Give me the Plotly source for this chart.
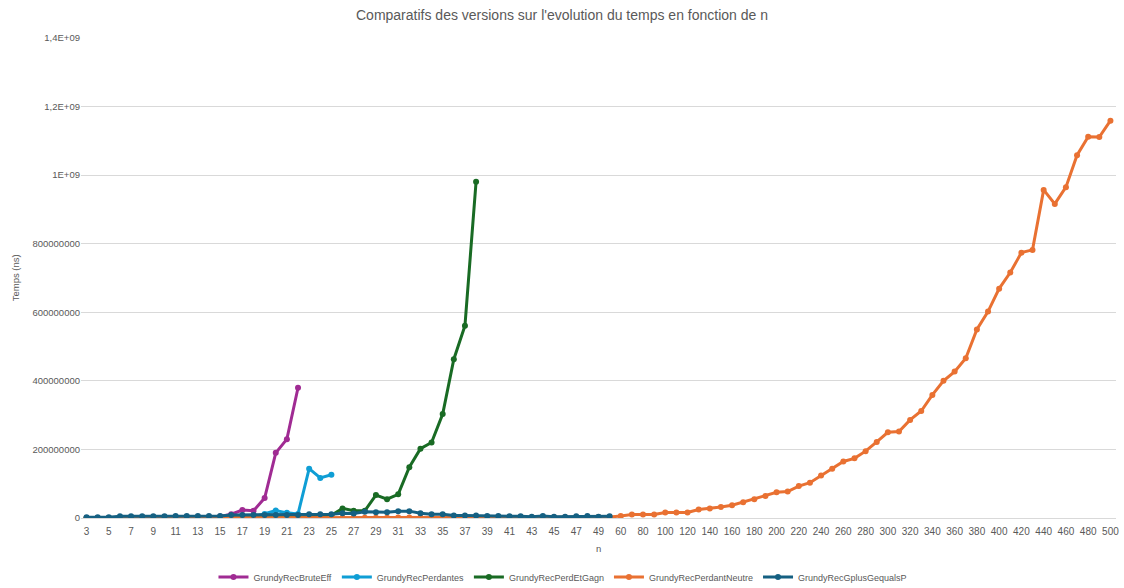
import plotly.graph_objects as go

n_values = list(range(3, 51)) + list(range(60, 501, 10))
categories = [str(v) for v in n_values]

# GrundyRecBruteEff : n = 3 .. 22
brute_eff = [2000, 3000, 5000, 9000, 15000, 30000, 60000, 120000, 250000, 500000,
             1000000, 2000000, 4500000, 11000000, 23000000, 21000000, 58000000,
             190000000, 230000000, 380000000]

# GrundyRecPerdantes : n = 3 .. 25
perdantes = [1000, 1500, 2000, 3000, 5000, 8000, 12000, 20000, 35000, 60000,
             100000, 200000, 400000, 800000, 1500000, 3000000, 12000000,
             22000000, 15000000, 12000000, 144000000, 117000000, 126000000]

# GrundyRecPerdEtGagn : n = 3 .. 38
perd_et_gagn = [1000, 1000, 1500, 2000, 3000, 4000, 6000, 9000, 14000, 20000, 30000,
                50000, 80000, 120000, 200000, 350000, 600000, 1000000, 1600000,
                2500000, 4000000, 6000000, 8000000, 28000000, 21000000, 21000000,
                67000000, 55000000, 69000000, 148000000, 202000000, 220000000,
                303000000, 463000000, 561000000, 981000000]

# GrundyRecPerdantNeutre : n = 3 .. 50, 60 .. 500
perdant_neutre = [100000, 100000, 120000, 150000, 150000, 200000, 200000, 250000,
                  300000, 300000, 350000, 400000, 400000, 450000, 500000, 500000,
                  550000, 600000, 600000, 650000, 700000, 700000, 750000, 800000,
                  800000, 900000, 1000000, 1000000, 1100000, 1200000, 1300000,
                  1400000, 1400000, 1500000, 1500000, 1600000, 1700000, 1800000,
                  1900000, 2000000, 2000000, 2100000, 2200000, 2300000, 2400000,
                  2500000, 2600000, 2800000,
                  6000000, 10000000, 10000000, 10000000, 16000000, 16000000,
                  16000000, 25000000, 28000000, 32000000, 37000000, 46000000,
                  55000000, 64000000, 75000000, 77000000, 93000000, 103000000,
                  124000000, 144000000, 165000000, 174000000, 195000000,
                  222000000, 250000000, 252000000, 286000000, 312000000,
                  359000000, 400000000, 427000000, 466000000, 550000000,
                  602000000, 669000000, 716000000, 774000000, 782000000,
                  957000000, 916000000, 965000000, 1058000000, 1112000000,
                  1111000000, 1159000000]

# GrundyRecGplusGequalsP : n = 3 .. 50
gplus_gequals_p = [2000000, 2000000, 2000000, 5000000, 5000000, 5000000, 5000000,
                   5000000, 6000000, 6000000, 6000000, 6000000, 6000000, 9000000,
                   9000000, 9000000, 9000000, 9000000, 9000000, 9000000, 11000000,
                   11000000, 11000000, 14000000, 13000000, 18000000, 17000000,
                   17000000, 20000000, 20000000, 14000000, 11000000, 11000000,
                   7000000, 7000000, 7000000, 6000000, 6000000, 5000000, 5000000,
                   4000000, 6000000, 4000000, 4000000, 5000000, 6000000, 4000000,
                   5000000]

y_tick_vals = [0, 200000000, 400000000, 600000000, 800000000, 1000000000,
               1200000000, 1400000000]
y_tick_text = ["0", "200000000", "400000000", "600000000", "800000000",
               "1E+09", "1,2E+09", "1,4E+09"]

series = [
    ("GrundyRecBruteEff", brute_eff, "#A02B93"),
    ("GrundyRecPerdantes", perdantes, "#0F9ED5"),
    ("GrundyRecPerdEtGagn", perd_et_gagn, "#196B24"),
    ("GrundyRecPerdantNeutre", perdant_neutre, "#E97132"),
    ("GrundyRecGplusGequalsP", gplus_gequals_p, "#156082"),
]

FONT = "Liberation Sans, Arial, sans-serif"
GREY = "#595959"

fig = go.Figure()
for name, vals, col in series:
    fig.add_trace(go.Scatter(
        x=categories[:len(vals)], y=vals, name=name, mode="lines+markers",
        line=dict(color=col, width=3), marker=dict(color=col, size=6),
    ))

fig.update_layout(
    width=1124, height=588,
    margin=dict(l=81, r=8, t=38, b=70, autoexpand=False),
    paper_bgcolor="white", plot_bgcolor="white",
    font=dict(family=FONT, color=GREY, size=9),
    title=dict(text="Comparatifs des versions sur l'evolution du temps en fonction de n",
               x=0.5, xanchor="center", y=0.975, yanchor="middle",
               font=dict(family=FONT, size=14, color=GREY)),
    legend=dict(orientation="h", x=0.128, xanchor="left", yref="container",
                y=0.0187, yanchor="middle",
                font=dict(family=FONT, size=9, color=GREY), itemwidth=30),
    xaxis=dict(type="category", categoryorder="array", categoryarray=categories,
               range=[-0.5, len(categories) - 0.5],
               tickvals=categories[::2], ticktext=categories[::2],
               showgrid=False, showline=True, linecolor="#D9D9D9", linewidth=1,
               ticks="", tickfont=dict(size=10, color=GREY), tickangle=0,
               ticklabelstandoff=4, automargin=False),
    yaxis=dict(range=[0, 1400000000], tickvals=y_tick_vals, ticktext=y_tick_text,
               showgrid=True, gridcolor="#D9D9D9", gridwidth=1, zeroline=False,
               showline=False, tickfont=dict(size=9.5, color=GREY), ticks="",
               automargin=False),
    annotations=[
        dict(text="n", xref="paper", yref="paper", x=0.5, y=-0.0625,
             showarrow=False, font=dict(size=9.5, color=GREY), yanchor="middle"),
        dict(text="Temps (ns)", xref="paper", yref="paper", x=-0.0635, y=0.5,
             textangle=-90, showarrow=False, font=dict(size=9.5, color=GREY),
             xanchor="center"),
    ],
)

fig.write_html("out.html")
